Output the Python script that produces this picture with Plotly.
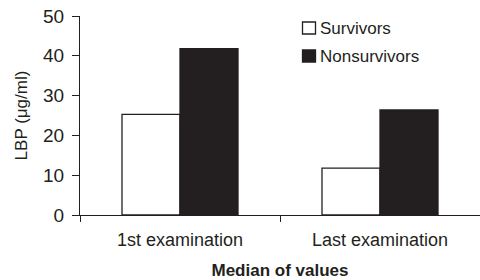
import plotly.graph_objects as go

categories = ["1st examination", "Last examination"]
survivors = [25.3, 11.8]
nonsurvivors = [41.8, 26.4]
y_ticks = [0, 10, 20, 30, 40, 50]
series_names = ["Survivors", "Nonsurvivors"]

INK = "#231f20"
font = "Liberation Sans, Arial, sans-serif"

fig = go.Figure()
fig.add_trace(go.Bar(x=categories, y=survivors, name=series_names[0], showlegend=False,
                     marker=dict(color="white", line=dict(color=INK, width=1.3))))
fig.add_trace(go.Bar(x=categories, y=nonsurvivors, name=series_names[1], showlegend=False,
                     marker=dict(color=INK, line=dict(color=INK, width=1.3))))

# plot area in pixels: x 80..480, y 16..215
L, R, T, B = 80, 480, 16, 215
def px(x):
    return (x - L) / (R - L)
def py(y):
    return (B - y) / (B - T)

# manual legend
fills = ["white", INK]
for i, (name, fill) in enumerate(zip(series_names, fills)):
    top = 22 + i * 28
    fig.add_shape(type="rect", xref="paper", yref="paper",
                  x0=px(302.5), x1=px(315.5), y0=py(top + 12), y1=py(top),
                  fillcolor=fill, line=dict(color=INK, width=1.3))
    fig.add_annotation(text=name, xref="paper", yref="paper", x=px(318), y=py(top + 6),
                       xanchor="left", yanchor="middle", showarrow=False,
                       font=dict(size=17, color=INK, family=font))

fig.update_layout(
    width=480, height=280,
    margin=dict(l=80, r=0, t=16, b=65, autoexpand=False),
    paper_bgcolor="white", plot_bgcolor="white",
    barmode="group", bargap=0.42, bargroupgap=0,
    font=dict(family=font, color=INK),
    showlegend=False,
    xaxis=dict(showline=True, linecolor=INK, linewidth=1.3, automargin=False,
               ticks="outside", tickson="boundaries", ticklen=6, tickcolor=INK,
               tickfont=dict(size=18), ticklabelstandoff=8,
               title=dict(text="<b>Median of values</b>", font=dict(size=17), standoff=16)),
    yaxis=dict(range=[0, 50], tickvals=y_ticks, showline=True, linecolor=INK, automargin=False,
               linewidth=1.3, ticks="outside", ticklen=7, tickcolor=INK,
               showgrid=False, zeroline=False, tickfont=dict(size=19), ticklabelstandoff=4,
               title=dict(text="LBP (μg/ml)", font=dict(size=17), standoff=10)),
)
fig.write_html("out.html", config={"displayModeBar": False},
               post_script="document.body.style.margin='0';")
